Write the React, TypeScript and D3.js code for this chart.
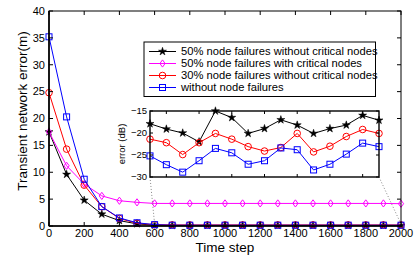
import * as d3 from "d3";

const W = 415;
const H = 259;
const MAIN = { left: 49, right: 401, top: 11, bottom: 226 };
const INSET = { left: 150, right: 379, top: 111, bottom: 177 };
const FONT = "'Liberation Sans', Arial, Helvetica, sans-serif";

const steps = d3.range(0, 2001, 100);
const insetSteps = d3.range(600, 2001, 100);

const legendLabels = [
  "50% node failures without critical nodes",
  "50% node failures with critical nodes",
  "30% node failures without critical nodes",
  "without node failures",
];
const colors = ["#000000", "#ff00ff", "#ff0000", "#0000ff"];
const markers = ["star", "diamond", "circle", "square"];

// main chart, error in metres, one value per 100 steps
const black50 = [17.5, 9.6, 4.8, 2.2, 1.0, 0.4, 0.15, 0.1, 0.1, 0.1, 0.1, 0.1, 0.1, 0.1, 0.1, 0.1, 0.1, 0.1, 0.1, 0.1, 0.1];
const magenta50 = [17.5, 11.2, 7.8, 5.6, 4.7, 4.4, 4.2, 4.2, 4.2, 4.2, 4.2, 4.2, 4.2, 4.2, 4.2, 4.2, 4.2, 4.2, 4.2, 4.2, 4.15];
const red30 = [24.8, 14.3, 7.6, 3.6, 1.4, 0.5, 0.25, 0.2, 0.2, 0.2, 0.2, 0.2, 0.2, 0.2, 0.2, 0.2, 0.2, 0.2, 0.2, 0.2, 0.2];
const blueNone = [35.2, 20.3, 8.7, 3.6, 1.5, 0.6, 0.25, 0.15, 0.15, 0.15, 0.15, 0.15, 0.15, 0.15, 0.15, 0.15, 0.15, 0.15, 0.15, 0.15, 0.15];

// inset, error in dB from step 600 to 2000
const blackDb = [-17.9, -19.1, -20.0, -22.0, -15.0, -16.5, -20.1, -19.0, -17.0, -18.2, -20.1, -19.0, -18.2, -16.0, -17.1];
const redDb = [-21.4, -22.2, -24.9, -22.2, -20.1, -21.4, -23.1, -24.1, -23.3, -20.1, -24.3, -23.0, -20.8, -19.2, -20.1];
const blueDb = [-25.2, -27.2, -28.9, -26.3, -23.5, -24.5, -27.1, -26.3, -23.4, -23.8, -28.4, -27.1, -24.8, -22.3, -23.1];

const mainSeries = [black50, magenta50, red30, blueNone];
const insetSeries = [blackDb, null, redDb, blueDb];

const yTicks = [0, 5, 10, 15, 20, 25, 30, 35, 40];
const xTicks = d3.range(0, 2001, 200);
const insetYTicks = [-15, -20, -25, -30];
const insetXTicks = d3.range(700, 2000, 200);

const starPath = d3.symbol(d3.symbolStar, 20)() as string;

const Marker = ({ kind, x, y, color }: { kind: string; x: number; y: number; color: string }) => {
  if (kind === "star")
    return <path d={starPath} transform={`translate(${x},${y})`} fill={color} stroke={color} strokeWidth={0.5} />;
  if (kind === "diamond")
    return <path d="M0,-3.6L2.6,0L0,3.6L-2.6,0Z" transform={`translate(${x},${y})`} fill="none" stroke={color} strokeWidth={1} />;
  if (kind === "circle") return <circle cx={x} cy={y} r={3.3} fill="none" stroke={color} strokeWidth={1} />;
  return <rect x={x - 3} y={y - 3} width={6} height={6} fill="none" stroke={color} strokeWidth={1} />;
};

export default function App() {
  const x = d3.scaleLinear().domain([0, 2000]).range([MAIN.left, MAIN.right]);
  const y = d3.scaleLinear().domain([0, 40]).range([MAIN.bottom, MAIN.top]);
  const xi = d3.scaleLinear().domain([600, 2000]).range([INSET.left, INSET.right]);
  const yi = d3.scaleLinear().domain([-30, -15]).range([INSET.bottom, INSET.top]);

  const line = d3.line<number>().x((_, i) => x(steps[i])).y((d) => y(d));
  const lineI = d3.line<number>().x((_, i) => xi(insetSteps[i])).y((d) => yi(d));

  const tick = 4;

  return (
    <svg width={W} height={H} style={{ position: "absolute", left: 0, top: 0, background: "#fff" }} fontFamily={FONT}>
      {/* main series */}
      {mainSeries.map((s, k) => (
        <g key={k}>
          <path d={line(s) as string} fill="none" stroke={colors[k]} strokeWidth={1} />
          {s.map((v, i) => (
            <Marker key={i} kind={markers[k]} x={x(steps[i])} y={y(v)} color={colors[k]} />
          ))}
        </g>
      ))}

      {/* main frame and ticks */}
      <rect x={MAIN.left} y={MAIN.top} width={MAIN.right - MAIN.left} height={MAIN.bottom - MAIN.top} fill="none" stroke="#000" strokeWidth={1} />
      <line x1={MAIN.left} x2={MAIN.left} y1={MAIN.top} y2={MAIN.bottom} stroke="#000" strokeWidth={1.6} />
      <line x1={MAIN.left} x2={MAIN.right} y1={MAIN.bottom} y2={MAIN.bottom} stroke="#000" strokeWidth={1.6} />
      {yTicks.map((t) => (
        <g key={t}>
          <line x1={MAIN.left} x2={MAIN.left + tick} y1={y(t)} y2={y(t)} stroke="#000" />
          <line x1={MAIN.right} x2={MAIN.right - tick} y1={y(t)} y2={y(t)} stroke="#000" />
          <text x={MAIN.left - 4} y={y(t)} dy="0.35em" textAnchor="end" fontSize={11}>
            {t}
          </text>
        </g>
      ))}
      {xTicks.map((t) => (
        <g key={t}>
          <line x1={x(t)} x2={x(t)} y1={MAIN.bottom} y2={MAIN.bottom - tick} stroke="#000" />
          <line x1={x(t)} x2={x(t)} y1={MAIN.top} y2={MAIN.top + tick} stroke="#000" />
          <text x={x(t)} y={MAIN.bottom + 10.5} textAnchor="middle" fontSize={11}>
            {t}
          </text>
        </g>
      ))}
      <text x={225} y={252} textAnchor="middle" fontSize={13.5}>
        Time step
      </text>
      <text transform={`translate(27,111) rotate(-90)`} textAnchor="middle" fontSize={13.5}>
        Transient network error(m)
      </text>

      {/* zoom guides */}
      <line x1={INSET.left} y1={INSET.bottom} x2={x(600)} y2={MAIN.bottom - 2} stroke="#888" strokeDasharray="1,2" />
      <line x1={INSET.right} y1={INSET.bottom} x2={x(2000)} y2={MAIN.bottom - 2} stroke="#888" strokeDasharray="1,2" />

      {/* inset */}
      <rect x={INSET.left} y={INSET.top} width={INSET.right - INSET.left} height={INSET.bottom - INSET.top} fill="#fff" />
      {insetSeries.map((s, k) =>
        s ? (
          <g key={k}>
            <path d={lineI(s) as string} fill="none" stroke={colors[k]} strokeWidth={1} />
            {s.map((v, i) => (
              <Marker key={i} kind={markers[k]} x={xi(insetSteps[i])} y={yi(v)} color={colors[k]} />
            ))}
          </g>
        ) : null
      )}
      <rect x={INSET.left} y={INSET.top} width={INSET.right - INSET.left} height={INSET.bottom - INSET.top} fill="none" stroke="#000" strokeWidth={1.4} />
      {insetYTicks.map((t) => (
        <g key={t}>
          <line x1={INSET.left} x2={INSET.left + 3} y1={yi(t)} y2={yi(t)} stroke="#000" />
          <line x1={INSET.right} x2={INSET.right - 3} y1={yi(t)} y2={yi(t)} stroke="#000" />
          <text x={INSET.left - 3} y={yi(t)} dy="0.35em" textAnchor="end" fontSize={9.5}>
            {"\u2212" + Math.abs(t)}
          </text>
        </g>
      ))}
      {insetXTicks.map((t) => (
        <g key={t}>
          <line x1={xi(t)} x2={xi(t)} y1={INSET.bottom} y2={INSET.bottom - 3} stroke="#000" />
          <line x1={xi(t)} x2={xi(t)} y1={INSET.top} y2={INSET.top + 3} stroke="#000" />
        </g>
      ))}
      <text transform={`translate(125,${(INSET.top + INSET.bottom) / 2}) rotate(-90)`} textAnchor="middle" fontSize={9.5}>
        error (dB)
      </text>

      {/* legend */}
      <rect x={144} y={42} width={231.5} height={54.5} fill="#fff" stroke="#000" strokeWidth={1} />
      {legendLabels.map((lab, k) => {
        const ly = 51.5 + k * 12;
        return (
          <g key={k}>
            <line x1={149} x2={176} y1={ly} y2={ly} stroke={colors[k]} strokeWidth={1} />
            <Marker kind={markers[k]} x={162.5} y={ly} color={colors[k]} />
            <text x={181} y={ly} dy="0.35em" fontSize={11.2}>
              {lab}
            </text>
          </g>
        );
      })}
    </svg>
  );
}
